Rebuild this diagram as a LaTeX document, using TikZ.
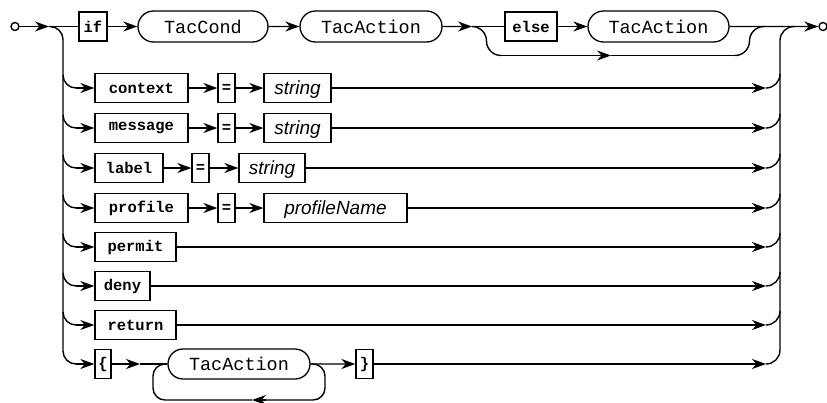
\documentclass[tikz,border=0pt]{standalone}
\usepackage{fontspec}
\usetikzlibrary{arrows.meta,shapes.misc}
\newfontfamily\monof{Liberation Mono}
\newfontfamily\sansf{Liberation Sans}
\tikzset{
  rr/.style={line width=1.4pt},
  arr/.style={rr,-{Stealth[length=14pt,width=10pt,inset=4.5pt]}},
  kw/.style={draw,line width=1.3pt,inner sep=0pt,minimum height=29pt,font=\monof\bfseries\fontsize{15.5}{15.5}\selectfont},
  nt/.style={draw,rounded rectangle,line width=1.3pt,inner sep=0pt,minimum height=31pt,font=\monof\fontsize{18.5}{18.5}\selectfont},
  lit/.style={draw,line width=1.3pt,inner sep=0pt,minimum height=29pt,text depth=0pt,font=\sansf\itshape\fontsize{19}{19}\selectfont},
  term/.style={circle,draw,rr,minimum size=8pt,inner sep=0pt},
}
\begin{document}
\begin{tikzpicture}[x=1pt,y=-1pt]
\useasboundingbox (0,0) rectangle (827,402);
% start / end
\node[term] (start) at (15,26.5) {};
\node[term] (end) at (823,26.5) {};
% top row
\coordinate (j0) at (49,26.5);
\node[kw,minimum width=28pt] (if) at (93,26.5) {if};
\node[nt,minimum width=130pt] (cond) at (203,26.5) {TacCond};
\node[nt,minimum width=142pt] (act1) at (371,26.5) {TacAction};
\coordinate (j1) at (472,26.5);
\node[kw,minimum width=52pt] (else) at (531,26.5) {else};
\node[nt,minimum width=141pt] (act2) at (658.5,26.5) {TacAction};
\coordinate (j2) at (764,26.5);
\coordinate (j3) at (794,26.5);
\draw[arr] (start) -- (j0);
\draw[rr] (j0) -- (if);
\draw[arr] (if) -- (cond);
\draw[arr] (cond) -- (act1);
\draw[arr] (act1) -- (j1);
\draw[rr] (j1) -- (else);
\draw[arr] (else) -- (act2);
\draw[arr] (act2) -- (end);
% else bypass
\coordinate (b1) at (501,55.5);
\coordinate (ba) at (611,55.5);
\coordinate (b2) at (735,55.5);
\draw[rr,rounded corners=14.5pt] (j1) -| (486.5,55.5) -- (b1);
\draw[arr] (b1) -- (ba);
\draw[rr] (ba) -- (b2);
\draw[rr,rounded corners=14.5pt] (b2) -| (749.5,26.5) -- (j2);
% left and right rails
\draw[rr,rounded corners=13pt] (j0) -| (63,364) -- (76,364);
\draw[rr,rounded corners=14pt] (766,364) -| (780,26.5) -- (j3);
% row branches
\foreach \y in {88,128,168,208,247,286,325}{
  \draw[rr,rounded corners=13pt] (63,\y-13) |- (76,\y);
  \draw[rr,rounded corners=14pt] (766,\y) -| (780,\y-14);
}
% context
\coordinate (l1) at (76,88); \coordinate (r1) at (766,88);
\node[kw,minimum width=93pt] (ctx) at (141.5,88) {context};
\node[kw,minimum width=17pt] (eq1) at (226.5,88) {=};
\node[lit,minimum width=67pt] (s1) at (297.5,88) {string};
\draw[arr] (l1) -- (ctx); \draw[arr] (ctx) -- (eq1); \draw[arr] (eq1) -- (s1); \draw[arr] (s1) -- (r1);
% message
\coordinate (l2) at (76,128); \coordinate (r2) at (766,128);
\node[kw,minimum width=93pt] (msg) at (141.5,128) {message};
\node[kw,minimum width=17pt] (eq2) at (226.5,128) {=};
\node[lit,minimum width=67pt] (s2) at (297.5,128) {string};
\draw[arr] (l2) -- (msg); \draw[arr] (msg) -- (eq2); \draw[arr] (eq2) -- (s2); \draw[arr] (s2) -- (r2);
% label
\coordinate (l3) at (76,168); \coordinate (r3) at (766,168);
\node[kw,minimum width=68pt] (lab) at (129,168) {label};
\node[kw,minimum width=17pt] (eq3) at (200.5,168) {=};
\node[lit,minimum width=66pt] (s3) at (272,168) {string};
\draw[arr] (l3) -- (lab); \draw[arr] (lab) -- (eq3); \draw[arr] (eq3) -- (s3); \draw[arr] (s3) -- (r3);
% profile
\coordinate (l4) at (76,208); \coordinate (r4) at (766,208);
\node[kw,minimum width=93pt] (prof) at (141.5,208) {profile};
\node[kw,minimum width=17pt] (eq4) at (226.5,208) {=};
\node[lit,minimum width=143pt] (pn) at (335.5,208) {profileName};
\draw[arr] (l4) -- (prof); \draw[arr] (prof) -- (eq4); \draw[arr] (eq4) -- (pn); \draw[arr] (pn) -- (r4);
% permit
\coordinate (l5) at (76,247); \coordinate (r5) at (766,247);
\node[kw,minimum width=81pt] (perm) at (135.5,247) {permit};
\draw[arr] (l5) -- (perm); \draw[arr] (perm) -- (r5);
% deny
\coordinate (l6) at (76,286); \coordinate (r6) at (766,286);
\node[kw,minimum width=55pt] (deny) at (122.5,286) {deny};
\draw[arr] (l6) -- (deny); \draw[arr] (deny) -- (r6);
% return
\coordinate (l7) at (76,325); \coordinate (r7) at (766,325);
\node[kw,minimum width=81pt] (ret) at (135.5,325) {return};
\draw[arr] (l7) -- (ret); \draw[arr] (ret) -- (r7);
% braces row
\coordinate (l8) at (76,364); \coordinate (r8) at (766,364);
\node[kw,minimum width=16pt] (lb) at (103,364) {\{};
\coordinate (la) at (140,364);
\node[nt,minimum width=142pt,minimum height=30pt] (act3) at (239,364) {TacAction};
\node[kw,minimum width=17pt] (rb) at (364.5,364) {\}};
\draw[arr] (l8) -- (lb);
\draw[arr] (lb) -- (la);
\draw[rr] (la) -- (act3);
\draw[arr] (act3) -- (rb);
\draw[arr] (rb) -- (r8);
% loop back
\coordinate (lp1) at (266,400);
\coordinate (lp2) at (252,400);
\draw[rr,rounded corners=12pt] (act3.east) -| (325,400) -- (lp1);
\draw[arr] (lp1) -- (lp2);
\draw[rr,rounded corners=12pt] (lp2) -| (153,364) -- (act3.west);
\end{tikzpicture}
\end{document}
